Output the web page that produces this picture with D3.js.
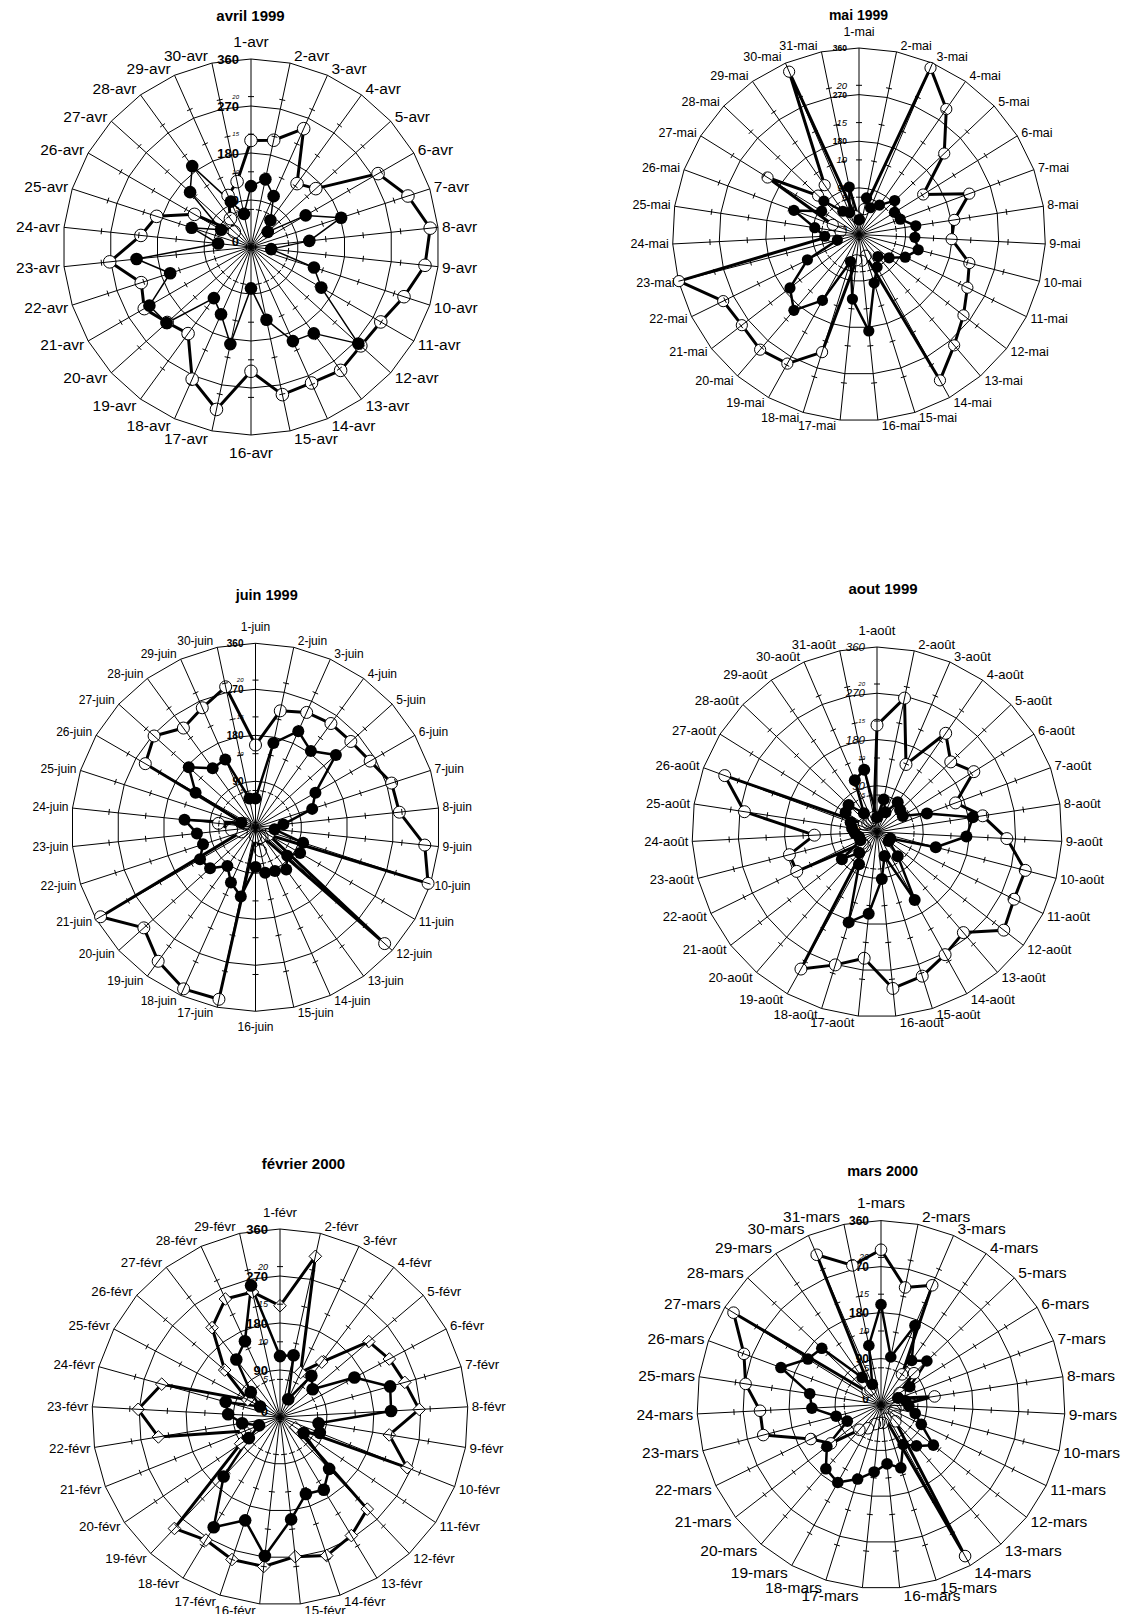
<!DOCTYPE html>
<html><head><meta charset="utf-8">
<script src="https://cdn.jsdelivr.net/npm/d3@7"></script>
<style>
body{margin:0;background:#fff}
svg{display:block}
text{font-family:"Liberation Sans",Arial,Helvetica,sans-serif;fill:#000}
</style>
</head><body>
<svg id="c" width="1130" height="1614"></svg>
<script>
// ---- Data: direction (open markers, 0-360) and vitesse (filled markers, 0-25) ----
const avrDir  = [204,209,248,150,167,281,316,345,335,308,287,283,292,285,289,238,318,277,205,216,236,221,272,212,190,125,43,67,108,128];
const avrVit  = [8.1,9.2,7.4,4.4,3.0,8.4,12.6,7.8,2.7,8.8,10.8,19.2,14.2,13.7,9.9,5.5,13.2,9.8,8.4,15.1,15.6,11.3,15.3,4.4,8.3,4.6,10.9,13.3,6.6,4.5];

const maiDir  = [29,50,350,295,227,146,227,186,179,220,233,255,282,322,43,51,50,238,285,293,286,292,359,54,36,54,208,109,116,342,36];
const maiVit  = [2.0,5.0,3.9,4.8,6.6,5.6,5.9,7.7,7.5,8.2,6.9,5.1,3.9,5.0,6.8,13.0,8.7,3.8,10.1,13.4,11.7,7.7,3.0,4.6,6.0,9.3,5.9,6.5,3.8,3.2,6.5];

const juinDir = [161,233,246,251,251,259,280,283,333,355,29,340,22,22,47,18,344,346,324,294,350,29,47,73,22,249,267,240,256,281];
const juinVit = [3.9,11.7,14.3,12.8,14.7,9.4,8.1,3.8,2.6,6.8,7.0,5.8,7.1,6.5,6.3,5.4,9.6,8.2,6.5,8.3,8.7,7.5,8.0,9.7,2.0,9.4,12.2,9.9,10.1,4.0];

const aoutDir = [208,266,143,234,198,222,163,208,253,298,297,312,258,273,294,306,247,271,305,36,36,174,176,122,261,316,29,25,25,25,29];
const aoutVit = [2.0,4.5,2.9,4.9,4.3,4.1,7.2,13.1,12.1,8.2,2.0,2.0,4.3,10.5,3.4,6.4,11.1,12.8,5.0,3.7,6.0,2.5,2.5,3.0,3.4,3.8,5.0,5.3,3.1,7.6,8.6];

const fevrDir = [213,315,94,132,223,237,248,267,212,262,36,243,265,280,269,288,288,275,294,91,72,236,272,235,70,139,215,249,245];
const fevrVit = [8.1,8.4,2.6,6.9,5.7,11.2,15.2,14.8,5.2,5.7,3.8,9.5,11.3,10.8,13.7,18.6,14.5,17.1,10.9,5.0,3.0,5.1,6.9,7.5,3.0,5.1,9.6,11.1,17.9];

const marsDir = [303,234,254,72,89,43,36,106,36,29,29,36,43,339,29,36,36,40,53,65,124,153,238,237,268,286,340,36,36,319,278];
const marsVit = [13.6,6.6,11.7,7.3,8.6,4.6,2.5,3.4,3.8,4.8,6.1,9.0,7.4,6.2,9.0,8.1,9.2,10.6,12.1,11.5,9.3,5.1,6.3,9.4,9.8,14.5,11.7,11.1,4.5,3.0,8.2];

// category labels: day + month abbreviation
const monthSuffix = ["avr","mai","juin","août","févr","mars"];
const titles = ["avril 1999","mai 1999","juin 1999","aout 1999","février 2000","mars 2000"];
const dirTicks = [0,90,180,270,360];
const vitTicks = [5,10,15,20];

function days(dirArr, suffix){ return dirArr.map((d,i)=> (i+1)+"-"+suffix); }

const charts = [
  {title:titles[0], cats:days(avrDir,monthSuffix[0]), dir:avrDir, vit:avrVit, cx:251, cy:247, R:188,
   tx:250.5, ty:15, tfs:15, lfs:15.5, afs:13, abold:true, aital:false, sfs:6, vw:1.5, mr:6.3, shape:"circle"},
  {title:titles[1], cats:days(maiDir,monthSuffix[1]), dir:maiDir, vit:maiVit, cx:859, cy:234.5, R:186.5,
   tx:858.5, ty:15, tfs:14, lfs:12.5, afs:8.5, abold:true, aital:false, sfs:9.5, vw:2.5, mr:5.6, shape:"circle"},
  {title:titles[2], cats:days(juinDir,monthSuffix[2]), dir:juinDir, vit:juinVit, cx:255.5, cy:827.3, R:184,
   tx:266.7, ty:595, tfs:14.5, lfs:12, afs:10, abold:true, aital:false, sfs:6, vw:2.5, mr:6, shape:"circle"},
  {title:titles[3], cats:days(aoutDir,monthSuffix[3]), dir:aoutDir, vit:aoutVit, cx:877, cy:832, R:185,
   tx:883, ty:588.3, tfs:15, lfs:13, afs:11.5, abold:false, aital:true, sfs:6, vw:2.5, mr:6, shape:"circle"},
  {title:titles[4], cats:days(fevrDir,monthSuffix[4]), dir:fevrDir, vit:fevrVit, cx:280, cy:1417, R:188,
   tx:303.5, ty:1163.5, tfs:15, lfs:13.3, afs:13, abold:true, aital:false, sfs:9, vw:2.5, mr:6.3, shape:"diamond"},
  {title:titles[5], cats:days(marsDir,monthSuffix[5]), dir:marsDir, vit:marsVit, cx:881, cy:1404.6, R:184,
   tx:882.7, ty:1171, tfs:14.5, lfs:15.5, afs:12, abold:true, aital:false, sfs:9, vw:2.5, mr:5.8, shape:"circle"}
];

const svg = d3.select("#c");
svg.append("rect").attr("width",1130).attr("height",1614).attr("fill","#fff");

charts.forEach(ch => {
  const n = ch.cats.length;
  const ang = d3.scaleLinear().domain([0,n]).range([0,2*Math.PI]);
  const rDir = d3.scaleLinear().domain([0,360]).range([0,ch.R]);
  const rVit = d3.scaleLinear().domain([0,25]).range([0,ch.R]);
  const idx = d3.range(n);
  const g = svg.append("g").attr("transform",`translate(${ch.cx},${ch.cy})`);

  // title
  svg.append("text").attr("x",ch.tx).attr("y",ch.ty)
    .attr("text-anchor","middle").attr("dominant-baseline","central")
    .attr("font-weight","bold").attr("font-size",ch.tfs).text(ch.title);

  // gridline polygons (primary axis 0-360 every 90)
  const ring = d3.lineRadial().angle(i=>ang(i)).curve(d3.curveLinearClosed);
  dirTicks.filter(t=>t>0).forEach(t => {
    g.append("path").attr("d", ring.radius(()=>rDir(t))(idx))
      .attr("fill","none").attr("stroke","#000").attr("stroke-width",1);
  });

  // axis labels on the top spoke
  dirTicks.forEach(t => {
    g.append("text").attr("x",-12).attr("y",-rDir(t) + (t===0?-6:0))
      .attr("text-anchor","end").attr("dominant-baseline","central")
      .attr("font-size",ch.afs)
      .attr("font-weight",ch.abold?"bold":"normal")
      .attr("font-style",ch.aital?"italic":"normal").text(t);
  });
  vitTicks.forEach(t => {
    g.append("text").attr("x",-12).attr("y",-rVit(t))
      .attr("text-anchor","end").attr("dominant-baseline","central")
      .attr("font-size",ch.sfs).attr("font-style","italic").text(t);
  });

  // series lines
  const dirLine = d3.lineRadial().angle((d,i)=>ang(i)).radius(d=>rDir(d)).curve(d3.curveLinearClosed);
  const vitLine = d3.lineRadial().angle((d,i)=>ang(i)).radius(d=>rVit(d)).curve(d3.curveLinearClosed);
  g.append("path").attr("d",dirLine(ch.dir)).attr("fill","none")
    .attr("stroke","#000").attr("stroke-width",3).attr("stroke-linejoin","round");
  g.append("path").attr("d",vitLine(ch.vit)).attr("fill","none")
    .attr("stroke","#000").attr("stroke-width",ch.vw).attr("stroke-linejoin","round");

  const px = (r,i)=> r*Math.sin(ang(i));
  const py = (r,i)=> -r*Math.cos(ang(i));

  // open markers (direction)
  if (ch.shape === "diamond") {
    const s = ch.mr;
    g.selectAll(null).data(ch.dir).enter().append("path")
      .attr("d",`M0,${-s}L${s},0L0,${s}L${-s},0Z`)
      .attr("transform",(d,i)=>`translate(${px(rDir(d),i)},${py(rDir(d),i)})`)
      .attr("fill","#fff").attr("stroke","#000").attr("stroke-width",1);
  } else {
    g.selectAll(null).data(ch.dir).enter().append("circle")
      .attr("cx",(d,i)=>px(rDir(d),i)).attr("cy",(d,i)=>py(rDir(d),i))
      .attr("r",ch.mr).attr("fill","#fff").attr("stroke","#000").attr("stroke-width",1);
  }
  // filled markers (vitesse)
  g.selectAll(null).data(ch.vit).enter().append("circle")
    .attr("cx",(d,i)=>px(rVit(d),i)).attr("cy",(d,i)=>py(rVit(d),i))
    .attr("r",ch.mr).attr("fill","#000");

  // spokes and tick marks on top
  idx.forEach(i => {
    const a = ang(i), s = Math.sin(a), c = Math.cos(a);
    g.append("line").attr("x1",0).attr("y1",0)
      .attr("x2",ch.R*s).attr("y2",-ch.R*c)
      .attr("stroke","#000").attr("stroke-width",1);
    vitTicks.forEach(t => {
      const r = rVit(t), L = 3;
      const x = r*s, y = -r*c;
      g.append("line")
        .attr("x1",x - L*c).attr("y1",y - L*s)
        .attr("x2",x + L*c).attr("y2",y + L*s)
        .attr("stroke","#000").attr("stroke-width",1);
    });
  });

  // category labels
  ch.cats.forEach((lab,i) => {
    const a = ang(i), s = Math.sin(a), c = Math.cos(a);
    const ex = ch.R*s, ey = -ch.R*c;
    let x, y, anchor;
    if (Math.abs(s) < 0.03) {
      anchor = "middle"; x = ex;
      y = c > 0 ? ey - (ch.lfs*0.5 + 10) : ey + (ch.lfs*0.5 + 10);
    } else {
      anchor = s > 0 ? "start" : "end";
      x = ex + (s > 0 ? 4 : -4);
      y = ey - c*ch.lfs*0.5;
    }
    g.append("text").attr("x",x).attr("y",y)
      .attr("text-anchor",anchor).attr("dominant-baseline","central")
      .attr("font-size",ch.lfs).text(lab);
  });
});
</script>
</body></html>
